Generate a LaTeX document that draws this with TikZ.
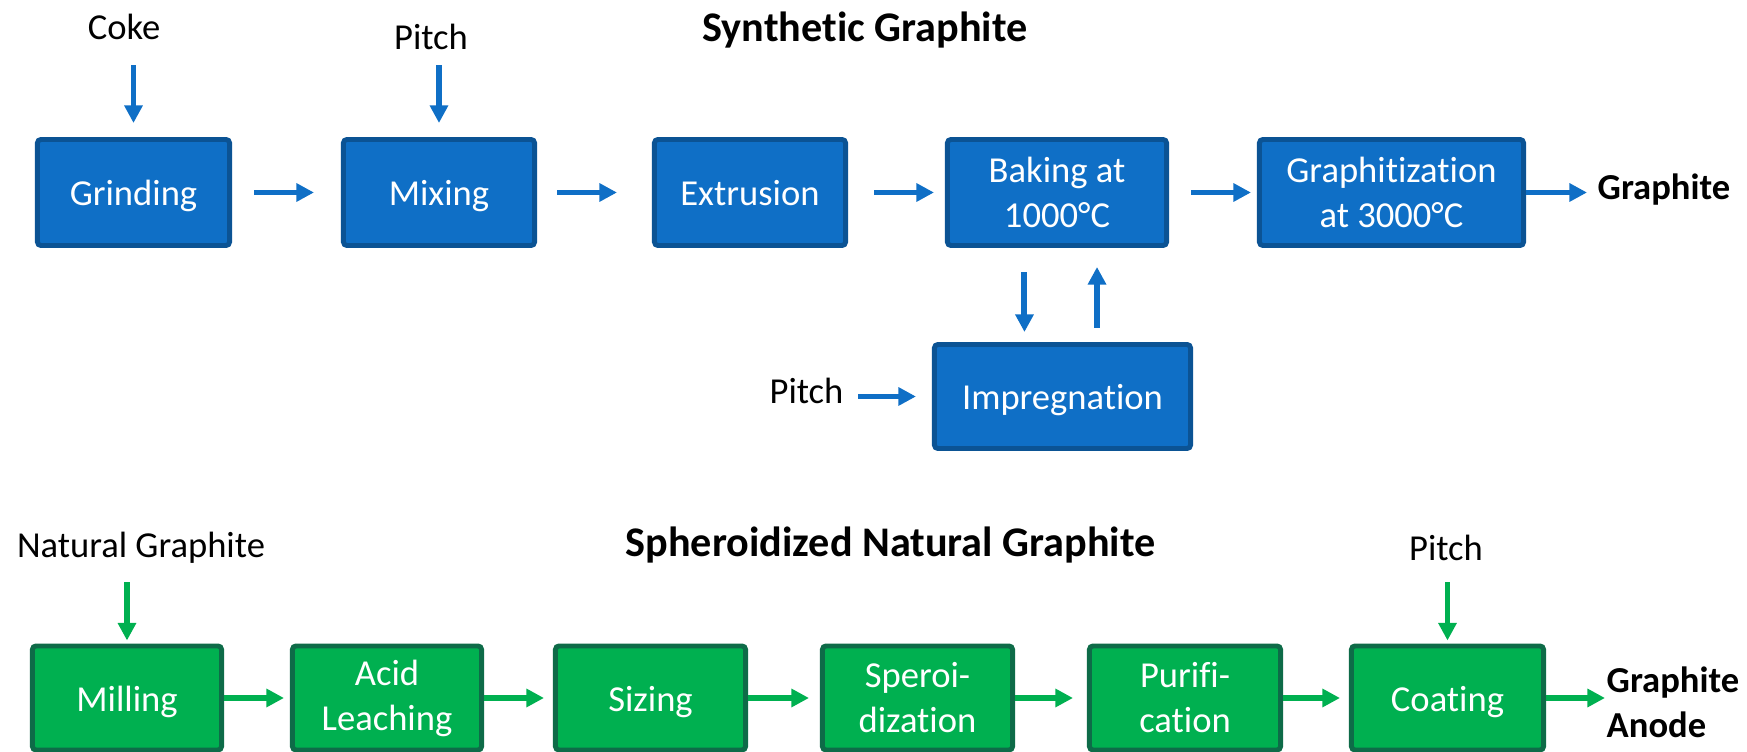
\documentclass[tikz,border=0pt]{standalone}
\usepackage{fontspec}
\setmainfont{Carlito}[Ligatures={NoCommon}]
\usepackage{xcolor}
\usetikzlibrary{arrows.meta, positioning}
\definecolor{procblue}{HTML}{0F6FC6}
\definecolor{procblueedge}{HTML}{0B5394}
\definecolor{procgreen}{HTML}{00B050}
\definecolor{procgreenedge}{HTML}{0E6B48}
\newcommand{\procfont}{\fontsize{10.4pt}{12.8pt}\selectfont}
\newcommand{\headfont}{\fontsize{12pt}{14pt}\selectfont\bfseries}
\tikzset{
  bluebox/.style={draw=procblueedge, fill=procblue, line width=1.4pt, rounded corners=1pt,
    text=white, align=center, inner sep=1pt, minimum height=1.06cm, font=\procfont},
  greenbox/.style={bluebox, draw=procgreenedge, fill=procgreen, minimum height=1.04cm},
  oneline/.style={text height=8.3pt, text depth=0.8pt},
  bluearrow/.style={-{Triangle[length=5pt,width=5pt]}, line width=1.7pt, draw=procblue},
  greenarrow/.style={bluearrow, draw=procgreen},
  plain/.style={inner sep=0pt, font=\procfont},
}
\begin{document}
\begin{tikzpicture}[x=0.01cm,y=-0.01cm]
  \useasboundingbox (0,0) rectangle (1747,752);
  % synthetic route
  \node[plain, font=\headfont] (synth) at (865,30) {Synthetic Graphite};
  \node[plain] (coke) at (124,27) {Coke};
  \node[plain] (pitchA) at (431,37) {Pitch};
  \node[bluebox, oneline, minimum width=1.92cm] (grind) at (133.5,192.5) {Grinding};
  \node[bluebox, oneline, minimum width=1.91cm] (mix) at (439,192.5) {Mixing};
  \node[bluebox, oneline, minimum width=1.91cm] (extr) at (750,192.5) {Extrusion};
  \node[bluebox, minimum width=2.19cm] (bake) at (1057,192.5) {Baking at\\1000°C};
  \node[bluebox, minimum width=2.64cm] (graph) at (1391.5,192.5) {Graphitization\\at 3000°C};
  \node[plain, font=\procfont\bfseries, anchor=west] (gout) at (1597,190) {Graphite};
  \node[bluebox, oneline, minimum width=2.56cm, minimum height=1.04cm] (imp) at (1062.5,396.5) {Impregnation};
  \node[plain] (pitchB) at (806.5,391) {Pitch};

  \draw[bluearrow, shorten <=0.38cm, shorten >=0.14cm] (grind.north |- coke) -- (grind.north);
  \draw[bluearrow, shorten <=0.28cm, shorten >=0.14cm] (mix.north |- pitchA) -- (mix.north);
  \draw[bluearrow, shorten <=0.22cm, shorten >=0.27cm] (grind) -- (mix);
  \draw[bluearrow, shorten <=0.20cm, shorten >=0.35cm] (mix) -- (extr);
  \draw[bluearrow, shorten <=0.26cm, shorten >=0.11cm] (extr) -- (bake);
  \draw[bluearrow, shorten <=0.22cm, shorten >=0.06cm] (bake) -- (graph);
  \draw[bluearrow, shorten >=0.10cm] (graph.east) -- (graph.east -| gout.west);
  \draw[bluearrow, shorten <=0.24cm, shorten >=0.10cm] ([xshift=-0.38cm]imp.north |- bake.south) -- ([xshift=-0.38cm]imp.north);
  \draw[bluearrow, shorten <=0.14cm, shorten >=0.19cm] ([xshift=0.345cm]imp.north) -- ([xshift=0.345cm]imp.north |- bake.south);
  \draw[bluearrow, shorten <=0.14cm, shorten >=0.16cm] (imp.west -| pitchB.east) -- (imp.west);

  % natural route
  \node[plain, font=\headfont] (sphero) at (890.5,545) {Spheroidized Natural Graphite};
  \node[plain] (natg) at (141,548) {Natural Graphite};
  \node[plain] (pitchC) at (1446,548) {Pitch};
  \node[greenbox, oneline, minimum width=1.89cm] (mill) at (127,698) {Milling};
  \node[greenbox, minimum width=1.89cm] (acid) at (387,698) {Acid\\Leaching};
  \node[greenbox, oneline, minimum width=1.90cm] (siz) at (650.5,698) {Sizing};
  \node[greenbox, minimum width=1.90cm] (sper) at (917.5,698) {Speroi-\\dization};
  \node[greenbox, minimum width=1.91cm] (puri) at (1185,698) {Purifi-\\cation};
  \node[greenbox, oneline, minimum width=1.92cm] (coat) at (1447.5,698) {Coating};
  \node[plain, font=\procfont\bfseries, anchor=west, align=left] (anode) at (1606,702) {Graphite\\Anode};

  \draw[greenarrow, shorten <=0.34cm, shorten >=0.03cm] (mill.north |- natg) -- (mill.north);
  \draw[greenarrow, shorten <=0.34cm, shorten >=0.03cm] (coat.north |- pitchC) -- (coat.north);
  \draw[greenarrow, shorten >=0.06cm] (mill) -- (acid);
  \draw[greenarrow, shorten >=0.09cm] (acid) -- (siz);
  \draw[greenarrow, shorten >=0.11cm] (siz) -- (sper);
  \draw[greenarrow, shorten >=0.14cm] (sper) -- (puri);
  \draw[greenarrow, shorten >=0.09cm] (puri) -- (coat);
  \draw[greenarrow, shorten >=0.01cm] (coat.east) -- (coat.east -| anode.west);
\end{tikzpicture}
\end{document}
